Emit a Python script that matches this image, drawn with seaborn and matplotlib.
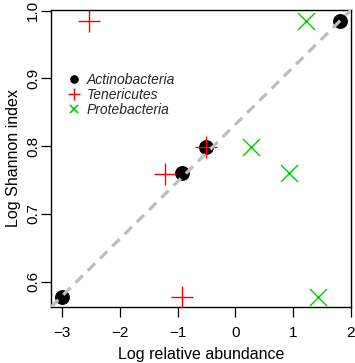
import matplotlib
matplotlib.use("Agg")
import matplotlib.pyplot as plt
from matplotlib.lines import Line2D
import seaborn as sns
import pandas as pd

groups = ["Actinobacteria", "Tenericutes", "Protebacteria"]
actino_x = [-3.0, -0.925, -0.515, 1.81]
actino_y = [0.577, 0.760, 0.799, 0.985]
teneri_x = [-2.53, -1.21, -0.515, -0.925]
teneri_y = [0.985, 0.759, 0.799, 0.578]
proteo_x = [1.22, 0.265, 0.925, 1.43]
proteo_y = [0.985, 0.799, 0.760, 0.577]

xticks = [-3, -2, -1, 0, 1, 2]
yticks = [0.6, 0.7, 0.8, 0.9, 1.0]
xlim = (-3.19, 2.0)
ylim = (0.5626, 1.001)

sns.set_theme(style="ticks")
plt.rcParams['font.family'] = ['Liberation Sans', 'DejaVu Sans']

fig = plt.figure(figsize=(3.55, 3.63), dpi=100)
ax = fig.add_axes([0.1437, 0.1543, 0.845, 0.8182])

df_a = pd.DataFrame({"x": actino_x, "y": actino_y})
df_t = pd.DataFrame({"x": teneri_x, "y": teneri_y})
df_p = pd.DataFrame({"x": proteo_x, "y": proteo_y})

sns.scatterplot(data=df_a, x="x", y="y", ax=ax, marker="o", color="black",
                s=115, edgecolor="black", linewidth=0, zorder=3)
sns.scatterplot(data=df_t, x="x", y="y", ax=ax, marker="+", color="#FF0000",
                s=260, linewidth=1.0, zorder=4)
sns.scatterplot(data=df_p, x="x", y="y", ax=ax, marker="x", color="#00CD00",
                s=150, linewidth=1.0, zorder=4)

ax.set_xlim(*xlim)
ax.set_ylim(*ylim)
ax.plot([xlim[0], xlim[1]], [ylim[0], ylim[1]], ls=(0, (3.2, 2.2)),
        color="#BEBEBE", lw=2.3, zorder=5)

ax.set_xticks(xticks)
ax.set_xticklabels([str(t).replace('-', '\u2212') for t in xticks])
ax.set_yticks(yticks)
ax.set_yticklabels([f"{t:.1f}" for t in yticks], rotation=90, va="center")
ax.tick_params(axis="both", length=7, width=0.9, color="black",
               labelsize=11, labelcolor="black")
ax.tick_params(axis="x", pad=6.5)
ax.tick_params(axis="y", pad=1.0)
for sp in ax.spines.values():
    sp.set_visible(True)
    sp.set_color("black")
    sp.set_linewidth(1.0)

ax.set_xlabel("Log relative abundance", fontsize=11.5, color="black", labelpad=5.5)
ax.set_ylabel("Log Shannon index", fontsize=11.5, color="black", labelpad=3.5)

handles = [
    Line2D([], [], marker="o", ls="", color="black", markersize=5.2),
    Line2D([], [], marker="+", ls="", color="#FF0000", markersize=8, markeredgewidth=1.0),
    Line2D([], [], marker="x", ls="", color="#00CD00", markersize=5.2, markeredgewidth=1.2),
]
leg = ax.legend(handles, groups, loc="upper left", bbox_to_anchor=(0.03, 0.81),
                frameon=False, borderpad=0, handlelength=1.0, handletextpad=0.4,
                labelspacing=0.05, prop={"size": 10, "style": "italic"})

fig.savefig("out.png", dpi=100)
